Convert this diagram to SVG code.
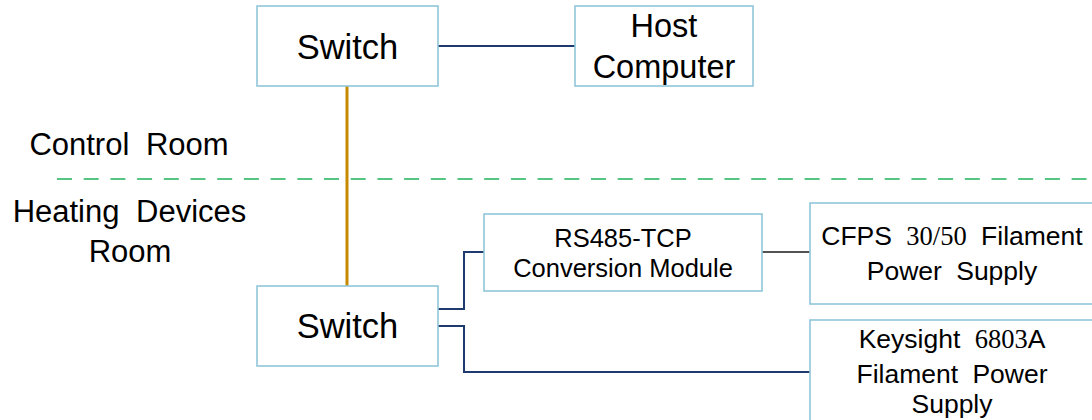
<svg xmlns="http://www.w3.org/2000/svg" width="1092" height="420" viewBox="0 0 1092 420">
<style>
.box{fill:#fff;stroke:#8fc6da;stroke-width:1.6}
text{font-family:"Liberation Sans",Arial,sans-serif;fill:#000;text-anchor:middle}
.num{font-family:"Liberation Serif","Times New Roman",serif}
.nav{fill:none;stroke:#1f3a6e;stroke-width:2}
.blk{fill:none;stroke:#1a1a1a;stroke-width:1.6}
</style>
<rect width="1092" height="420" fill="#fff"/>
<g id="labels">
<text x="129" y="155" font-size="31" word-spacing="8">Control Room</text>
<text x="129.5" y="222" font-size="31" word-spacing="8">Heating Devices</text>
<text x="130" y="262" font-size="31">Room</text>
</g>
<line id="divider" x1="57" y1="179" x2="1092" y2="179" stroke="#1db35a" stroke-width="1.6" stroke-dasharray="15,11.7"/>
<g id="connectors">
<line x1="347" y1="86" x2="347" y2="286" stroke="#c68a00" stroke-width="3"/>
<line class="nav" x1="438" y1="46" x2="575" y2="46"/>
<polyline class="nav" points="438,309 464,309 464,252 484,252"/>
<polyline class="nav" points="438,326 464,326 464,372 810,372"/>
<line class="blk" x1="762" y1="252" x2="810" y2="252"/>
</g>
<g id="switch-top">
<rect class="box" x="257" y="6" width="181" height="80"/>
<text x="347.5" y="59" font-size="34.5">Switch</text>
</g>
<g id="host">
<rect class="box" x="575" y="6" width="178" height="80"/>
<text x="664" y="37" font-size="32.5">Host</text>
<text x="664" y="78" font-size="32.5">Computer</text>
</g>
<g id="switch-bottom">
<rect class="box" x="257" y="286" width="181" height="80"/>
<text x="347.5" y="338" font-size="34.5">Switch</text>
</g>
<g id="rs485">
<rect class="box" x="484" y="214" width="278" height="77"/>
<text x="623" y="247" font-size="25.5">RS485-TCP</text>
<text x="623" y="277" font-size="25.5">Conversion Module</text>
</g>
<g id="cfps">
<rect class="box" x="810" y="203" width="290" height="101"/>
<text x="952" y="245" font-size="26.5" word-spacing="7">CFPS <tspan class="num">30/50</tspan> Filament</text>
<text x="952" y="280" font-size="26.5" word-spacing="7">Power Supply</text>
</g>
<g id="keysight">
<rect class="box" x="810" y="320" width="290" height="110"/>
<text x="952" y="348" font-size="26.5" word-spacing="7">Keysight <tspan class="num">6803</tspan>A</text>
<text x="952" y="383" font-size="26.5" word-spacing="7">Filament Power</text>
<text x="952" y="413" font-size="26.5">Supply</text>
</g>
</svg>
